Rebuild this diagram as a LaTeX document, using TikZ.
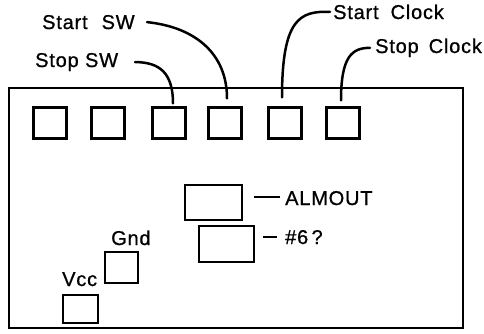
\documentclass[tikz,border=0pt]{standalone}
\usepackage{fontspec}
\setmainfont{Liberation Sans}[LetterSpace=4, FakeBold=0.8]
\begin{document}
\begin{tikzpicture}[x=1pt,y=-1pt,
  pad/.style={draw, line width=2.2pt, inner sep=0pt, minimum width=33pt, minimum height=31pt},
  wpad/.style={draw, line width=2.2pt, inner sep=0pt, minimum width=57pt, minimum height=35pt},
  lab/.style={inner sep=0pt, anchor=base west, font=\fontsize{20}{22}\selectfont},
  conn/.style={line width=2.5pt, line cap=round}]
\useasboundingbox (0,0) rectangle (484,333);
% outer board
\node[draw, line width=2.2pt, inner sep=0pt, minimum width=454.5pt, minimum height=240pt, anchor=north west] (board) at (7.5,87) {};
% top pads
\node[pad] (sq1) at (50,123) {};
\node[pad] (sq2) at (108,123) {};
\node[pad] (sq3) at (169,123) {};
\node[pad] (sq4) at (225,123) {};
\node[pad] (sq5) at (285,123) {};
\node[pad] (sq6) at (343,123) {};
% labels top
\node[lab] (startsw) at (42,29) {Start\hspace{14pt}SW};
\node[lab] (stopsw) at (35,67) {Stop SW};
\node[lab] (startclk) at (333,19) {Start\hspace{12pt}Clock};
\node[lab] (stopclk) at (375,53) {Stop\hspace{10pt}Clock};
% connectors
\draw[conn] (startsw.east -| 147,0) .. controls +(48,5) and +(0,-45) .. ([xshift=2pt,yshift=8pt]sq4.north);
\draw[conn] (stopsw.east -| 135,0) .. controls +(25,0) and +(0,-30) .. ([xshift=4pt,yshift=3pt]sq3.north);
\draw[conn] (startclk.west -| 330,0) .. controls +(-30,-1) and +(0,-79) .. ([xshift=-3pt,yshift=9pt]sq5.north);
\draw[conn] (stopclk.west -| 370,0) .. controls +(-18,0) and +(0,-44) .. ([xshift=-2pt,yshift=6pt]sq6.north);
% middle pads
\node[wpad] (alm) at (213.5,202.5) {};
\node[wpad, minimum width=55pt, minimum height=36pt] (six) at (226.5,244) {};
\node[lab] (almlab) at (285,205) {ALMOUT};
\node[lab] (sixlab) at (285,244) {\#6\,?};
\draw[line width=2pt] (alm.east |- almlab.west) ++(11,-1) coordinate (a1) -- (a1 -| 280,0);
\draw[line width=2pt] (six.east |- sixlab.west) ++(8,0) coordinate (b1) -- (b1 -| 277,0);
% power pads
\node[pad, minimum width=33pt, minimum height=31pt] (gnd) at (121.5,267.5) {};
\node[pad, minimum width=35pt, minimum height=28pt] (vcc) at (80.5,309) {};
\node[lab] (gndlab) at (111,245) {Gnd};
\node[lab] (vcclab) at (62,286) {Vcc};
\end{tikzpicture}
\end{document}
